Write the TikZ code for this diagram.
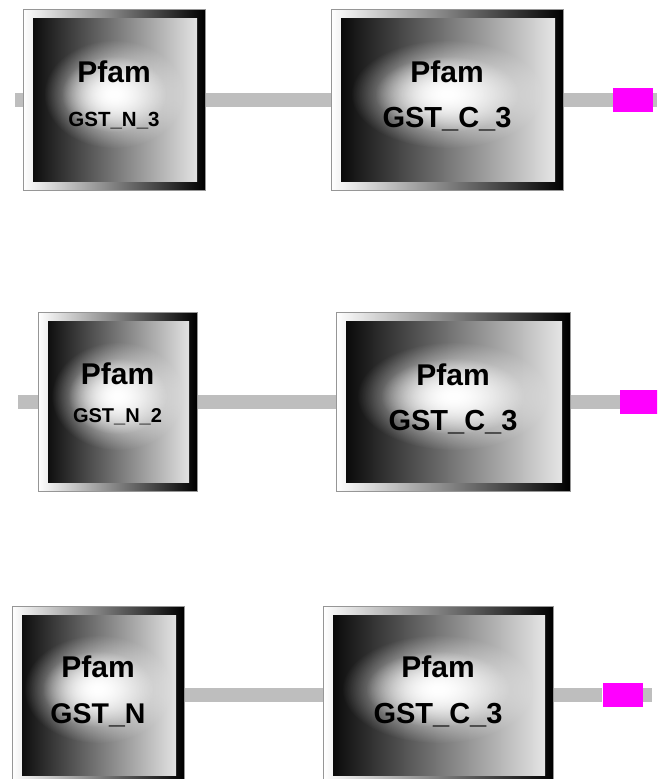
\documentclass[tikz,border=0pt]{standalone}
\usepackage{fontspec}
\setmainfont{Liberation Sans}
\usetikzlibrary{positioning,fadings,calc}
\definecolor{linkGray}{RGB}{190,190,190}
\definecolor{pinCol}{RGB}{255,0,255}
\definecolor{edgeGray}{RGB}{150,150,150}
\tikzfading[name=glow, inner color=transparent!0, outer color=transparent!100]
\newcommand{\famfont}[1]{\bfseries\fontsize{30}{#1}\selectfont}
\newcommand{\subfont}[1]{\fontsize{#1}{#1}\selectfont}
\newcommand{\lift}[1]{\rule[-#1pt]{0pt}{#1pt}}
\tikzset{
  fam/.style={draw=edgeGray, line width=1pt, left color=white, right color=black,
              inner sep=0pt, align=center, minimum height=181,
              path picture={
                \shade[left color=black, right color=white!93!black]
                  ($(path picture bounding box.south west)+(10,-9)$) rectangle
                  ($(path picture bounding box.north east)+(-8,9)$);
                \fill[white, path fading=glow]
                  ([yshift=6pt]path picture bounding box.center) ellipse (#1pt and 54pt);
                \fill[white, path fading=glow]
                  ([yshift=6pt]path picture bounding box.center) ellipse (0.75*#1pt and 38pt);
              }},
  link/.style={draw=linkGray, line width=14pt},
  pin/.style={fill=pinCol, minimum width=40, minimum height=24, inner sep=0pt},
}

\begin{document}
\begin{tikzpicture}[x=1pt,y=-1pt]
  \useasboundingbox (0,0) rectangle (657,779);
  \clip (0,0) rectangle (657,779);
  % first row
  \node[fam=70, minimum width=182, font=\famfont{44}] (a1) at (114,100)
    {Pfam\\{\subfont{20.5}GST\_N\_3}\lift{13}};
  \node[fam=96, minimum width=232, font=\famfont{45}] (b1) at (447,100)
    {Pfam\\{\subfont{29}GST\_C\_3}\lift{11}};
  % second row
  \node[fam=66, minimum width=159, minimum height=179, font=\famfont{38}] (a2) at (117.5,402)
    {Pfam\\{\subfont{20}GST\_N\_2}\lift{18}};
  \node[fam=96, minimum width=234, minimum height=179, font=\famfont{45}] (b2) at (453,402)
    {Pfam\\{\subfont{29}GST\_C\_3}\lift{10}};
  % third row
  \node[fam=74, minimum width=172, minimum height=178, font=\famfont{46}] (a3) at (98,695)
    {Pfam\\{\subfont{28.5}GST\_N}\lift{10}};
  \node[fam=96, minimum width=230, minimum height=178, font=\famfont{46}] (b3) at (438,695)
    {Pfam\\{\subfont{29}GST\_C\_3}\lift{10}};
  \node[pin] (p1) at (633,100) {};
  \node[pin] (p2) at (640,402) {};
  \node[pin] (p3) at (622.5,695) {};
  \coordinate (s1) at (15,100);
  \coordinate (s2) at (18,402);
  \coordinate (e1) at (657,100);
  \coordinate (e2) at (660,402);
  \coordinate (e3) at (652,695);
  \draw[link] (s1) -- (a1);
  \draw[link] (s2) -- (a2);
  \foreach \r in {1,2,3}
    \draw[link] (a\r) -- (b\r) (b\r) -- (p\r) (p\r) -- (e\r);
\end{tikzpicture}
\end{document}
